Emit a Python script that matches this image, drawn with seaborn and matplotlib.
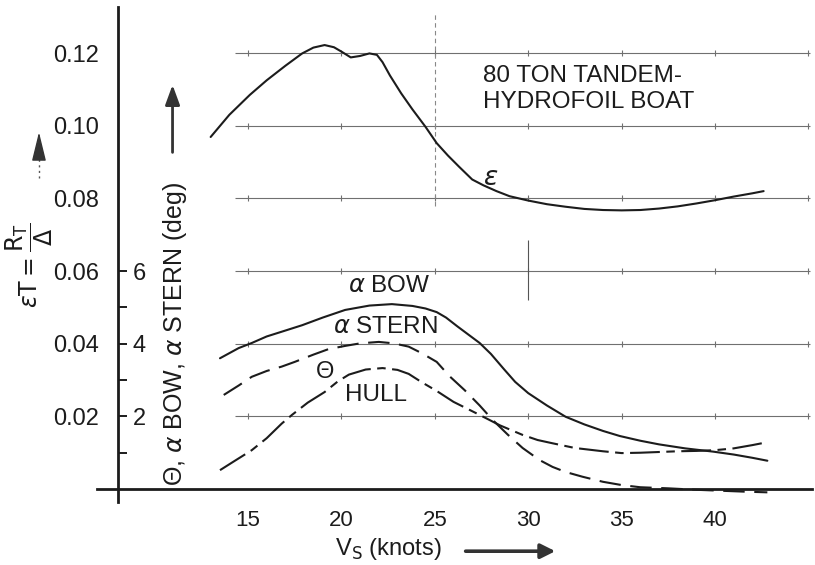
import numpy as np
import pandas as pd
import matplotlib
matplotlib.use("Agg")
import matplotlib.pyplot as plt
import seaborn as sns

# speed in knots and the curves
eps_v = [13.0, 14.0, 15.1, 16.0, 17.0, 17.9, 18.5, 19.1, 19.6, 20.0, 20.5, 21.0, 21.5, 21.9,
         22.2, 22.6, 23.2, 23.8, 24.5, 25.1, 25.7, 26.3, 27.0, 27.6, 28.3, 29.0, 30.0, 31.0,
         32.0, 33.0, 34.0, 35.0, 36.0, 37.0, 38.0, 39.0, 40.0, 41.0, 42.0, 42.6]
eps_val = [0.0969, 0.1030, 0.1085, 0.1125, 0.1165, 0.1199, 0.1215, 0.1222, 0.1216, 0.1204,
           0.1188, 0.1192, 0.1199, 0.1195, 0.1175, 0.1138, 0.1089, 0.1045, 0.0997, 0.0952,
           0.0918, 0.0887, 0.0852, 0.0836, 0.0820, 0.0806, 0.0794, 0.0784, 0.0777, 0.0771,
           0.0768, 0.0767, 0.0768, 0.0772, 0.0778, 0.0786, 0.0795, 0.0805, 0.0814, 0.0820]

bow_v = [13.5, 14.5, 15.2, 16.0, 16.8, 17.9, 19.0, 20.2, 21.5, 22.7, 23.8, 24.5, 25.1, 25.6,
         26.2, 26.8, 27.4, 28.0, 28.7, 29.3, 30.0, 31.0, 32.0, 33.0, 34.0, 34.9, 36.0, 37.0,
         38.4, 39.9, 41.0, 42.0, 42.8]
bow_deg = [3.60, 3.88, 4.02, 4.20, 4.33, 4.51, 4.72, 4.93, 5.05, 5.09, 5.04, 4.97, 4.87, 4.72,
           4.48, 4.25, 4.02, 3.72, 3.30, 2.95, 2.64, 2.30, 1.99, 1.78, 1.60, 1.46, 1.33, 1.23,
           1.12, 1.03, 0.95, 0.86, 0.78]

stern_v = [13.7, 14.5, 15.2, 16.0, 16.8, 17.5, 18.5, 19.3, 20.2, 21.0, 22.0, 22.8, 23.6, 24.3,
           25.1, 25.8, 26.6, 27.4, 28.1, 28.9, 29.7, 30.6, 31.3, 32.0, 32.9, 34.0, 35.0, 36.0,
           37.5, 39.0, 40.0, 41.5, 42.8]
stern_deg = [2.59, 2.85, 3.09, 3.25, 3.37, 3.50, 3.70, 3.85, 3.94, 4.01, 4.05, 4.01, 3.92, 3.74,
             3.50, 3.10, 2.72, 2.30, 1.90, 1.50, 1.13, 0.80, 0.61, 0.47, 0.34, 0.20, 0.11, 0.05,
             0.02, -0.02, -0.04, -0.07, -0.09]

hull_v = [13.5, 14.3, 15.2, 16.0, 16.8, 17.35, 18.2, 19.1, 19.8, 20.4, 21.3, 22.2, 23.0, 23.6,
          24.3, 25.1, 26.0, 27.4, 28.5, 29.7, 30.5, 31.3, 32.5, 34.0, 35.0, 36.0, 37.0, 38.0,
          39.0, 40.0, 41.0, 42.0, 42.8]
hull_deg = [0.52, 0.78, 1.07, 1.40, 1.80, 2.04, 2.38, 2.67, 2.96, 3.15, 3.29, 3.33, 3.28, 3.17,
            2.94, 2.70, 2.40, 2.04, 1.75, 1.49, 1.35, 1.26, 1.13, 1.04, 0.99, 1.00, 1.02, 1.04,
            1.05, 1.07, 1.12, 1.21, 1.29]

x_ticks = [15, 20, 25, 30, 35, 40, 45]
x_labels = ["15", "20", "25", "30", "35", "40", ""]
y_major = [0.02, 0.04, 0.06, 0.08, 0.10, 0.12]
y_minor = [0.01, 0.03, 0.05, 0.07, 0.09, 0.11, 0.13]
deg_ticks = [1, 2, 3, 4, 5, 6]
deg_labels = ["", "2", "", "4", "", "6"]

# one degree of angle sits on 0.01 of the resistance scale
DEG = 0.01
X0 = 8.04          # where the vertical axis crosses
INK = "#1c1c1c"

frames = [
    pd.DataFrame({"v": eps_v, "y": eps_val, "curve": "eps"}),
    pd.DataFrame({"v": bow_v, "y": np.array(bow_deg) * DEG, "curve": "bow"}),
    pd.DataFrame({"v": stern_v, "y": np.array(stern_deg) * DEG, "curve": "stern"}),
    pd.DataFrame({"v": hull_v, "y": np.array(hull_deg) * DEG, "curve": "hull"}),
]
df = pd.concat(frames, ignore_index=True)

sns.set_style("white")
plt.rcParams["font.family"] = ["Liberation Sans", "DejaVu Sans"]
plt.rcParams["mathtext.fontset"] = "dejavusans"

fig = plt.figure(figsize=(8.15, 5.65), dpi=100)
ax = fig.add_axes([0, 0, 1, 1])
ax.set_xlim(1.724, 45.35)
ax.set_ylim(-0.0209, 0.1346)

# light grid rules with small crosses every 5 knots
ax.hlines(y_major, 14.3, 45.1, color="#707070", lw=0.8, zorder=1)
gx, gy = np.meshgrid(x_ticks, y_major)
ax.plot(gx.ravel(), gy.ravel(), ls="none", marker="|", ms=5, mew=0.8, color="#707070", zorder=1)
ax.vlines(25, 0.078, 0.131, color="#888888", lw=0.8, ls=(0, (4, 3)), zorder=1)
ax.vlines(30, 0.052, 0.0685, color="#555555", lw=0.8, zorder=1)

sns.lineplot(data=df, x="v", y="y", style="curve", estimator=None, sort=False,
             dashes={"eps": "", "bow": "", "stern": (10.3, 4.6), "hull": (14.3, 3.1, 4.1, 3.1)},
             color=INK, lw=1.5, legend=False, ax=ax, zorder=3)

# axes lines
for s in ["top", "right"]:
    ax.spines[s].set_visible(False)
ax.spines["left"].set_position(("data", X0))
ax.spines["left"].set_bounds(-0.0036, 0.1327)
ax.spines["bottom"].set_position(("data", 0))
ax.spines["bottom"].set_bounds(6.9, 45.2)
for s in ["left", "bottom"]:
    ax.spines[s].set_linewidth(2.0)
    ax.spines[s].set_color(INK)

ax.set_xticks(x_ticks, x_labels)
ax.set_yticks(y_major, [f"{t:.2f}" for t in y_major])
ax.set_yticks(y_minor, minor=True)
ax.set_xlabel("")
ax.set_ylabel("")
ax.tick_params(axis="x", direction="inout", length=8.6, width=1.4, pad=10.5,
               labelsize=16, colors=INK)
ax.tick_params(axis="y", which="both", direction="out", length=6.5, width=1.4, pad=7.2,
               labelsize=17, colors=INK)

# degree scale on the inside of the same vertical axis
sec = ax.secondary_yaxis((X0 - 1.724) / (45.35 - 1.724),
                         functions=(lambda y: y / DEG, lambda d: d * DEG))
sec.spines["left"].set_visible(False)
sec.set_yticks(deg_ticks, deg_labels)
sec.tick_params(direction="in", length=6.5, width=1.4, pad=-20, labelsize=17, colors=INK)

# axis titles and arrows
ax.text(22.5, -0.0165, r"V$_\mathrm{S}$ (knots)", ha="center", va="center",
        fontsize=17, color=INK)
ax.annotate("", xy=(31.6, -0.0171), xytext=(26.5, -0.0171),
            arrowprops=dict(arrowstyle="-|>", lw=2.6, mutation_scale=22, color="#333333"))

ax.text(3.3, 0.0615, r"$\varepsilon\mathrm{T} = \dfrac{\mathrm{R_T}}{\Delta}$",
        rotation=90, ha="center", va="center", fontsize=17, color=INK)
ax.vlines(3.81, 0.0856, 0.0930, color="#555555", lw=1.0, ls=(0, (1.5, 2.5)))
ax.annotate("", xy=(3.81, 0.0990), xytext=(3.81, 0.0928),
            arrowprops=dict(arrowstyle="-|>,head_length=0.9,head_width=0.22", lw=1.0,
                            mutation_scale=20, color="#333333"))

ax.text(11.07, 0.0427, r"Θ, $\alpha$ BOW, $\alpha$ STERN (deg)", rotation=90,
        ha="center", va="center", fontsize=18, color=INK)
ax.annotate("", xy=(10.96, 0.1120), xytext=(10.96, 0.0919),
            arrowprops=dict(arrowstyle="-|>,head_length=0.6,head_width=0.22", lw=2.0,
                            mutation_scale=20, color="#333333"))

# curve labels and title
ax.text(27.58, 0.1101, "80 TON TANDEM-\nHYDROFOIL BOAT", ha="left", va="center",
        fontsize=17.5, linespacing=1.2, color=INK)
ax.text(28.0, 0.0856, r"$\varepsilon$", ha="center", va="center", fontsize=19, color=INK)
ax.text(20.37, 0.0559, r"$\alpha$ BOW", ha="left", va="center", fontsize=17.5, color=INK)
ax.text(19.56, 0.0447, r"$\alpha$ STERN", ha="left", va="center", fontsize=17.5, color=INK)
ax.text(19.12, 0.0321, "Θ", ha="center", va="center", fontsize=17, color=INK)
ax.text(20.19, 0.0259, "HULL", ha="left", va="center", fontsize=17.5, color=INK)

fig.savefig("out.png", dpi=100, facecolor="white")
